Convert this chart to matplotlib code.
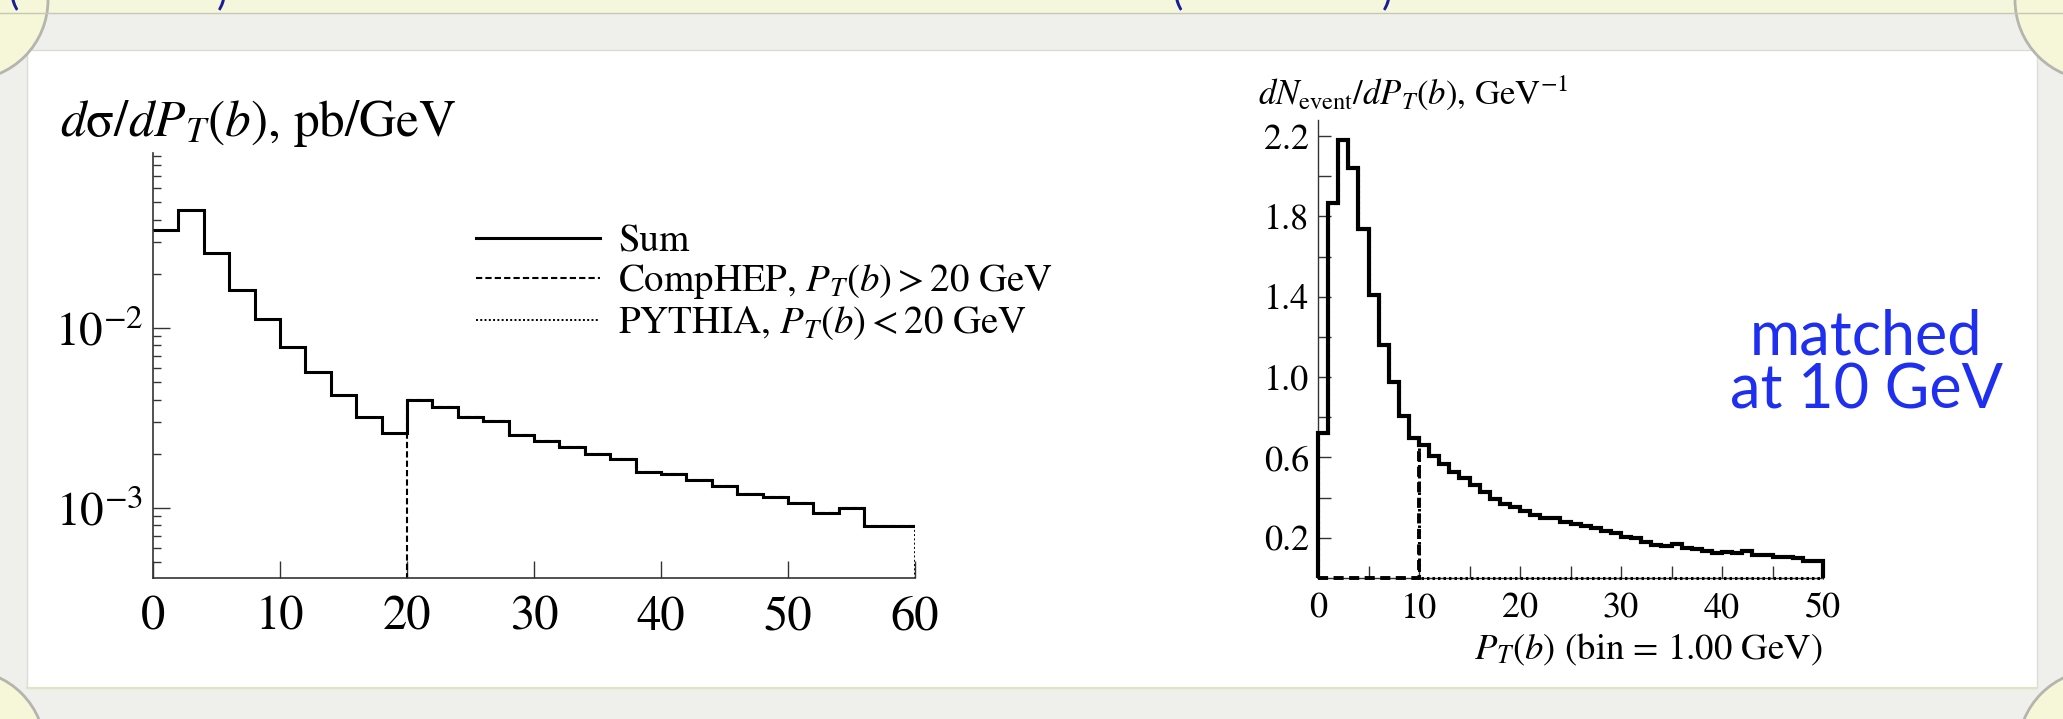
#!/usr/bin/env python
# encoding=utf-8
"""
Slide snapshot: b-jet transverse momentum spectra, CompHEP + PYTHIA matching.
Left: d sigma/dPT(b) (log, 2 GeV bins), right: dN/dPT(b) (1 GeV bins).
"""
import numpy as np
import matplotlib
matplotlib.use('Agg')
import matplotlib.pyplot as plt
import matplotlib.ticker as ticker
from matplotlib.patches import Rectangle, Circle

W, H = 2063, 719

# left panel: d sigma / dPT(b), pb/GeV, 2 GeV bins, matched at 20 GeV
left_edges = np.arange(0, 62, 2)
left_sum = [0.035, 0.0453, 0.026, 0.0163, 0.0112, 0.00787, 0.00572, 0.00424, 0.00322, 0.0026,
            0.00398, 0.00363, 0.0032, 0.00305, 0.00255, 0.00237, 0.00217, 0.0020, 0.00186, 0.00159,
            0.00154, 0.00143, 0.00132, 0.00119, 0.00115, 0.00106, 0.000935, 0.0010, 0.00079, 0.00079]
left_match = 20
left_labels = ['Sum', r'CompHEP, $P_T(b) > 20$ GeV', r'PYTHIA, $P_T(b) < 20$ GeV']

# right panel: dN_event / dPT(b), 1 GeV bins, matched at 10 GeV
right_edges = np.arange(0, 51, 1)
right_sum = [0.723, 1.868, 2.18, 2.04, 1.736, 1.41, 1.16, 0.975, 0.806, 0.699,
             0.663, 0.608, 0.567, 0.526, 0.498, 0.463, 0.427, 0.394, 0.369, 0.353,
             0.333, 0.312, 0.300, 0.300, 0.280, 0.270, 0.260, 0.250, 0.235, 0.225,
             0.205, 0.197, 0.180, 0.164, 0.159, 0.168, 0.147, 0.142, 0.136, 0.123,
             0.131, 0.123, 0.136, 0.114, 0.114, 0.106, 0.104, 0.098, 0.086, 0.086]
right_match = 10
right_yticks = [0.2, 0.6, 1.0, 1.4, 1.8, 2.2]
right_yminor = [0.4, 0.8, 1.2, 1.6, 2.0]

plt.rcParams['font.family'] = 'STIXGeneral'
plt.rcParams['mathtext.fontset'] = 'stix'

fig = plt.figure(figsize=(W / 100, H / 100), dpi=100)
fig.patch.set_facecolor('#efefec')


def px_axes(x0, y0, x1, y1, **kw):
    """Axes placed by pixel box (top-left origin)."""
    return fig.add_axes([x0 / W, 1 - y1 / H, (x1 - x0) / W, (y1 - y0) / H], **kw)


# slide background
bg = fig.add_axes([0, 0, 1, 1], zorder=-1)
bg.set_xlim(0, W)
bg.set_ylim(H, 0)
bg.axis('off')
bg.add_patch(Rectangle((0, 0), W, 13, facecolor='#f5f7dc', edgecolor='none'))
bg.plot([0, W], [13, 13], color='#c6c8b4', lw=1)
bg.add_patch(Rectangle((27, 50), 2010, 638, facecolor='white', edgecolor='#dcdcd6', lw=1))
bg.plot([27, 2037], [688, 688], color='#dde6c2', lw=1.5)
for cx, cy in [(-32, 0), (W + 32, 0), (-35, 750), (W + 35, 750)]:
    bg.add_patch(Circle((cx, cy), 80, facecolor='#f5f7d8', edgecolor='#b5b5ad', lw=2))
for x, s in [(13, '('), (222, ')'), (1177, '('), (1387, ')')]:
    fig.text(x / W, 1 - 4 / H, s, color='#1c1c96', fontsize=28, family='Lato',
             ha='center', va='baseline')

# ---- left panel ----
axL = px_axes(153, 153, 915, 578)
axL.set_facecolor('none')
axL.set_yscale('log')
lo = 10 ** -3.389
axL.set_xlim(0, 60)
axL.set_ylim(lo, 10 ** -1.028)

vals = np.array(left_sum)
low = left_edges[:-1] < left_match
pyth = axL.stairs(vals[low], left_edges[left_edges <= left_match], baseline=None,
                  color='k', lw=1.4, linestyle=(0, (1, 1.2)))
comp = axL.stairs(vals[~low], left_edges[left_edges >= left_match], baseline=None,
                  color='k', lw=1.5, linestyle=(0, (3, 1.5)))
# component edges down to the axis: CompHEP switches on at the matching point,
# the high end closes dotted
axL.vlines(left_match, lo / 10, vals[~low][0], color='k', lw=1.5, linestyle=(0, (3, 1.5)))
axL.vlines(left_edges[-1], lo / 10, vals[-1], color='k', lw=1.4, linestyle=(0, (1, 1.2)))
tot = axL.stairs(vals, left_edges, baseline=None, color='k', lw=2.2)

axL.legend([tot, comp, pyth], left_labels, loc='upper left', frameon=False,
           bbox_to_anchor=(476 / W, 1 - 224 / H), bbox_transform=fig.transFigure,
           borderpad=0, borderaxespad=0, handlelength=3.2, handletextpad=0.45,
           labelspacing=0.08, fontsize=28)

for side in ['top', 'right']:
    axL.spines[side].set_visible(False)
for side in ['left', 'bottom']:
    axL.spines[side].set_color('#333333')
    axL.spines[side].set_linewidth(1.2)
axL.xaxis.set_major_locator(ticker.MultipleLocator(10))
axL.xaxis.set_minor_locator(ticker.NullLocator())
axL.yaxis.set_major_locator(ticker.LogLocator(base=10))
axL.yaxis.set_minor_locator(ticker.LogLocator(base=10, subs=np.arange(2, 10)))
axL.yaxis.set_minor_formatter(ticker.NullFormatter())
axL.tick_params(which='both', direction='in', width=1, color='#333333')
axL.tick_params(which='major', length=12)
axL.tick_params(which='minor', length=6)
axL.tick_params(axis='x', labelsize=35, pad=13)
axL.tick_params(axis='y', labelsize=34, pad=7)

fig.text(60 / W, 1 - 136 / H, '$d$σ$/dP_T(b)$, pb/GeV', fontsize=37, va='baseline')

# ---- right panel ----
axR = px_axes(1318, 120, 1823, 578)
axR.set_facecolor('none')
axR.set_xlim(0, 50)
axR.set_ylim(0, 2.28)

rv = np.array(right_sum)
below = right_edges[:-1] < right_match
axR.stairs(np.where(below, rv, 0), right_edges, baseline=0, color='k', lw=2.2,
           linestyle=(0, (0.8, 1.0)), clip_on=False, zorder=3)
axR.stairs(np.where(below, 0, rv), right_edges, baseline=0, color='k', lw=2.8,
           linestyle=(0, (2.6, 1.4)), clip_on=False, zorder=3)
axR.stairs(rv, right_edges, baseline=0, color='k', lw=3, clip_on=False, zorder=4)

for side in ['top', 'right']:
    axR.spines[side].set_visible(False)
for side in ['left', 'bottom']:
    axR.spines[side].set_color('#333333')
    axR.spines[side].set_linewidth(1)
axR.xaxis.set_major_locator(ticker.MultipleLocator(10))
axR.xaxis.set_minor_locator(ticker.MultipleLocator(5))
axR.yaxis.set_major_locator(ticker.FixedLocator(right_yticks))
axR.yaxis.set_minor_locator(ticker.FixedLocator(right_yminor))
axR.yaxis.set_major_formatter(ticker.FormatStrFormatter('%.1f'))
axR.tick_params(which='both', direction='in', length=9, width=1, color='#333333')
axR.tick_params(axis='x', labelsize=26, pad=10)
axR.tick_params(axis='y', labelsize=26, pad=6.5)

fig.text(1258 / W, 1 - 104 / H, r'$dN_{\rm event}/dP_T(b)$, GeV$^{-1}$', fontsize=25,
         va='baseline')
fig.text(1822 / W, 1 - 650 / H, r'$P_T(b)$ (bin = 1.00 GeV)', fontsize=26.5,
         ha='right', va='center')

fig.text(1866 / W, 1 - 364 / H, 'matched\nat 10 GeV', color='#1f2ff0', fontsize=44,
         family='Lato', ha='center', va='center', linespacing=0.95)

fig.savefig('out.png', dpi=100, facecolor=fig.get_facecolor())
